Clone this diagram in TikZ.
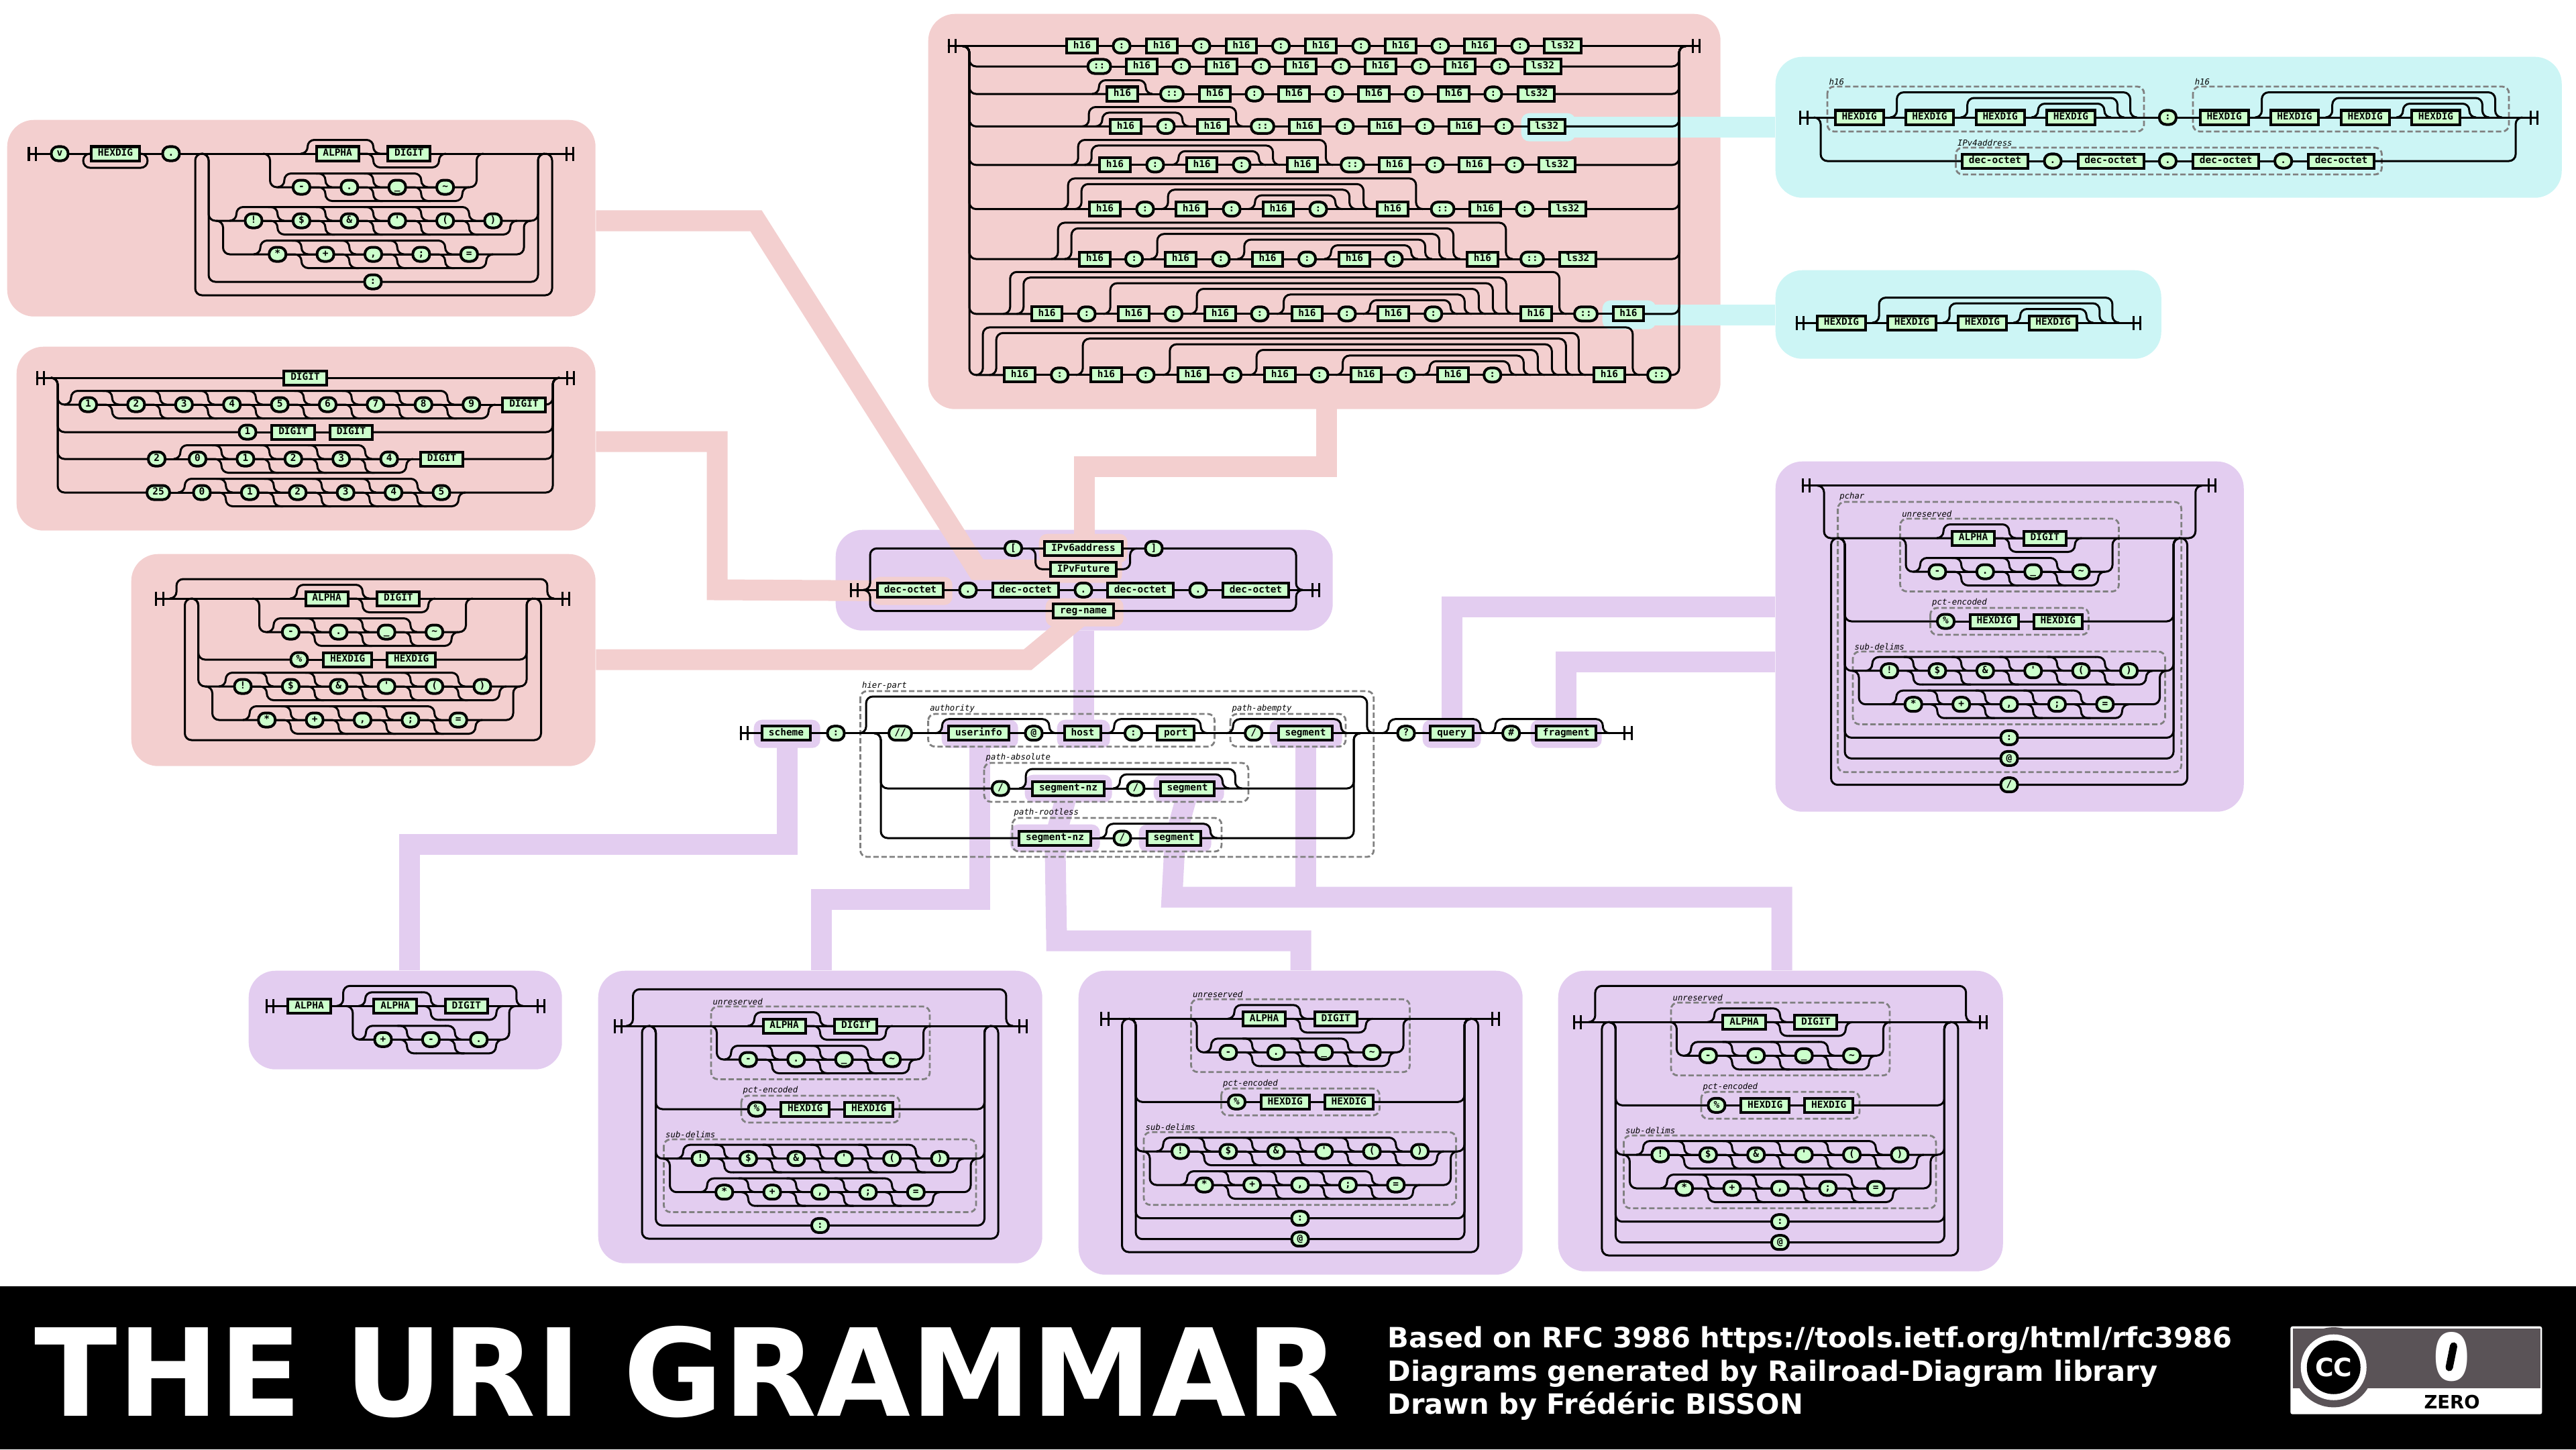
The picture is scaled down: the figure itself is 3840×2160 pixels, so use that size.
\documentclass[tikz,border=0pt]{standalone}
\usepackage{fontspec}
\usetikzlibrary{calc}
\newfontfamily\railfont{DejaVu Sans Mono}
\newfontfamily\footfont{DejaVu Sans}
\definecolor{railgreen}{HTML}{CCFFCC}
\definecolor{panelpink}{HTML}{F3CFCF}
\definecolor{panelviolet}{HTML}{E3CDF0}
\definecolor{panelcyan}{HTML}{CCF5F5}
\definecolor{badgegray}{HTML}{5A5357}
\newcommand\fwd{/}
\newcommand\cma{,}
\newcommand\lpr{(}
\newcommand\rpr{)}
\tikzset{
    rail/.style={line width=.03cm, rounded corners=.1cm, line cap=round},
    railbar/.style={line width=.03cm},
    nbox/.style={draw, fill=railgreen, line width=.04cm, inner xsep=.098cm, inner ysep=.03cm, minimum height=.21cm,
        text height=.105cm, text depth=.03cm, font=\railfont\bfseries\fontsize{4.11}{5}\selectfont},
    tbox/.style={nbox, rounded corners=.1cm, inner xsep=.082cm},
    groupbox/.style={draw=gray, line width=.028cm, rounded corners=.1cm, dash pattern=on .08cm off .04cm},
    grouptag/.style={anchor=west, inner sep=0, font=\railfont\itshape\fontsize{3.5}{4}\selectfont},
    band/.style={draw=#1, line width=.31cm},
    footline/.style={anchor=base west, inner sep=0, text=white, font=\footfont\bfseries\fontsize{11.84}{13}\selectfont}
}
% background shapes
\newcommand\railpanel[7]{\node[fill=#2, rounded corners=#7, inner sep=0, anchor=north west,
    minimum width={(#5-#3)*.01cm}, minimum height={(#6-#4)*.01cm}] (#1) at (#3,#4) {};}
% start and end marks
\newcommand\railend[3]{%
    \coordinate (#1) at ({#2+5.25},#3);
    \draw[railbar] ({#2},{#3-10.5}) -- ++(0,21);
    \draw[railbar] ({#2+10.5},{#3-10.5}) -- ++(0,21);
    \draw[rail] (#2,#3) -- ++(10.5,0);
}
% nodes on a row, each joined to the one before
\newcommand\railchain[3]{%
    \foreach \px/\kind/\lbl [count=\i, remember=\i as \j (initially 0)] in {#3} {
        \expandafter\node\expandafter[\kind] (#1\i) at ({\px},{#2}) {\lbl};
        \ifnum\i>1 \draw[rail] (#1\j) -- (#1\i); \fi
    }
}
% row of items that may each be entered or left
\newcommand\stairrow[6]{%
    \foreach \lbl [count=\i, remember=\i as \j (initially 0)] in {#6} {
        \node[#2] (#1\i) at ({#3+(\i-1)*#4},{#5}) {\lbl};
        \ifnum\i>1
            \draw[rail] (#1\j) -- (#1\i);
            \coordinate (#1g\i) at ($(#1\j)!.5!(#1\i)$);
            \draw[rail] ($(#1g\i)+(-14,-20.5)$) -- ++(14,0) |- (#1\i.west);
            \draw[rail] (#1\j.east) -| ($(#1g\i)+(0,20.5)$) -- ++(14,0);
        \fi
        \xdef\railn{\i}
    }
    \draw[rail] ($(#11.west)+(-21,0)$) -- ++(10,0) |- ($(#1g\railn)+(-14,-20.5)$);
    \draw[rail] ($(#1g2)+(14,20.5)$) -| ($(#1\railn.east)+(11,0)$) -- ++(10,0);
}
% branch of a choice, bypass above, loop below
\newcommand\railrow[4]{%
    \draw[rail] ($(#1)+(-10,0)$) -- (#1) |- (#3.west);
    \draw[rail] (#4.east) -| (#2) -- ++(10,0);
}
\newcommand\railskip[5]{\draw[rail] ($(#1.west)+({-(#2)-10},0)$) -- ++(10,0) -- ++(0,{-(#5)}) -| ($(#3.east)+(#4,0)$) -- ++(10,0);}
\newcommand\railloop[3]{\draw[rail] ($(#1)+(10,0)$) -- (#1) -- (#1 |- 0,#3) -- (#2 |- 0,#3) -- (#2) -- ($(#2)+(-10,0)$);}
\newcommand\rowskips[2]{\foreach \ia/\ib/\dl/\dr/\lev in {#2} {\railskip{#1\ia}{\dl}{#1\ib}{\dr}{20.5+8.4*\lev}}}
% dashed group with its name
\newcommand\railgroup[6]{%
    \draw[groupbox] ({#2},{#3}) rectangle ({#4},{#5});
    \node[grouptag] (#1) at ({#2+2},{#3-7.5}) {#6};
}
% repeated grammar blocks
\newcommand\unresrow[3]{%
    \stairrow{#1a}{nbox}{#2-53.4}{106.8}{#3}{ALPHA,DIGIT}
    \stairrow{#1b}{tbox}{#2-107.1}{71.4}{#3+50}{-,.,\_,\textasciitilde}
    \railrow{{#2-154},#3}{{#2+154},#3}{#1b1}{#1b4}
}
\newcommand\pctrow[3]{\railchain{#1}{#3}{#2-94.5/tbox/\%,#2-22.2/nbox/HEXDIG,#2+72.8/nbox/HEXDIG}}
\newcommand\subrow[3]{%
    \stairrow{#1a}{tbox}{#2-178.5}{71.4}{#3}{!,\$,\&,',\lpr,\rpr}
    \stairrow{#1b}{tbox}{#2-142.8}{71.4}{#3+50}{*,+,\cma,;,=}
    \railrow{{#2-224},#3}{{#2+224.5},#3}{#1b1}{#1b5}
}
\newcommand\choiceterm[5]{%
    \node[tbox] (#1#2) at ({#4},{#5}) {#3};
    \railrow{#1l}{#1r}{#1#2}{#1#2}
}
\newcommand\pcharcore[3]{%
    \railgroup{#1ug}{#2-162.5}{#3-29}{#2+163.5}{#3+79.5}{unreserved}
    \railgroup{#1pg}{#2-117.5}{#3+104}{#2+118.5}{#3+144}{pct-encoded}
    \railgroup{#1dg}{#2-233}{#3+169}{#2+232.5}{#3+277.5}{sub-delims}
    \coordinate (#1l) at ({#2-245},#3);
    \coordinate (#1r) at ({#2+245},#3);
    \coordinate (#1ll) at ({#2-265.5},#3);
    \coordinate (#1rr) at ({#2+265.5},#3);
    \unresrow{#1u}{#2}{#3}
    \pctrow{#1p}{#2}{#3+124}
    \subrow{#1d}{#2}{#3+197.7}
    \railrow{#1l}{#1r}{#1p1}{#1p3}
    \railrow{#1l}{#1r}{#1da1}{#1da6}
    \choiceterm{#1}{c}{:}{#2}{#3+297.4}
}
\newcommand\hexladder[3]{%
    \railchain{#1}{#3}{#2/nbox/HEXDIG,#2+104.9/nbox/HEXDIG,#2+210/nbox/HEXDIG,#2+315.4/nbox/HEXDIG}
    \railskip{#12}{11}{#14}{50.6}{37.4}
    \railskip{#13}{11}{#14}{31.5}{29}
    \railskip{#14}{11}{#14}{12}{20.5}
}
\begin{document}
\begin{tikzpicture}[x=.01cm, y=-.01cm]
    \useasboundingbox (0,0) rectangle (3840,2160);

    % violet panels, highlights and bands
    \railpanel{phost}{panelviolet}{1245}{789}{1986}{939}{.4cm}
    \railpanel{ppchar}{panelviolet}{2646}{687}{3344}{1209}{.4cm}
    \railpanel{pscheme}{panelviolet}{370}{1446}{837}{1593}{.4cm}
    \railpanel{puser}{panelviolet}{891}{1446}{1553}{1882}{.4cm}
    \railpanel{pnz}{panelviolet}{1607}{1446}{2269}{1899}{.4cm}
    \railpanel{pseg}{panelviolet}{2322}{1446}{2985}{1894}{.4cm}
    \railpanel{hsc}{panelviolet}{1123}{1072}{1222}{1114}{.12cm}
    \railpanel{hui}{panelviolet}{1403}{1072}{1517}{1114}{.12cm}
    \railpanel{hho}{panelviolet}{1575}{1072}{1654}{1114}{.12cm}
    \railpanel{hsa}{panelviolet}{1892}{1072}{2000}{1114}{.12cm}
    \railpanel{hq}{panelviolet}{2120}{1072}{2207}{1114}{.12cm}
    \railpanel{hfr}{panelviolet}{2281}{1072}{2387}{1114}{.12cm}
    \railpanel{hnza}{panelviolet}{1527}{1154}{1657}{1195}{.12cm}
    \railpanel{hsga}{panelviolet}{1719}{1154}{1824}{1195}{.12cm}
    \railpanel{hnzb}{panelviolet}{1505}{1228}{1639}{1269}{.12cm}
    \railpanel{hsgb}{panelviolet}{1697}{1228}{1805}{1269}{.12cm}
    \draw[band=panelviolet] (hsc.center) |- (610,1258) -- (610,0 |- pscheme.north);
    \draw[band=panelviolet] (hho.center) -- (hho |- phost.south);
    \draw[band=panelviolet] (hq.center) |- (ppchar.west |- 0,904);
    \draw[band=panelviolet] (hfr.center) |- (ppchar.west |- 0,986);
    \draw[band=panelviolet] (hui.center) |- (1224,1340) -- (1224,0 |- puser.north);
    \draw[band=panelviolet] (hnza.center) -- (hnzb.center) -- (1575,1402) -- (1939,1402) -- (1939,0 |- pnz.north);
    \draw[band=panelviolet] (hsa.center) -- (hsa |- 0,1337);
    \draw[band=panelviolet] (hsga.center) -- (hsgb.center) -- (1747,1337) -- (2656,1337) -- (2656,0 |- pseg.north);

    % pink panels, highlights and bands
    \railpanel{pfut}{panelpink}{10}{178}{887}{471}{.4cm}
    \railpanel{pdec}{panelpink}{24}{516}{887}{790}{.4cm}
    \railpanel{preg}{panelpink}{195}{825}{887}{1141}{.4cm}
    \railpanel{pv6}{panelpink}{1383}{20}{2564}{609}{.4cm}
    \railpanel{hv6}{panelpink}{1548}{795}{1680}{838}{.12cm}
    \railpanel{hfut}{panelpink}{1560}{830}{1672}{868}{.12cm}
    \railpanel{hdo}{panelpink}{1299}{859}{1419}{901}{.12cm}
    \railpanel{hreg}{panelpink}{1558}{891}{1674}{933}{.12cm}
    \draw[band=panelpink] (pfut.east |- 0,329) -- (1127,329) -- (1457,849) -- (hfut.center);
    \draw[band=panelpink] (pdec.east |- 0,658) -- (1069,658) -- (1069,879) -- (hdo.center);
    \draw[band=panelpink] (preg.east |- 0,983) -- (1532,983) -- (hreg.center);
    \draw[band=panelpink] (1977,609) -- (1977,695) -- (1616,695) -- (1616,800);

    % cyan panels, highlights and bands
    \railpanel{pls}{panelcyan}{2646}{84}{3818}{294}{.4cm}
    \railpanel{ph16}{panelcyan}{2646}{402}{3221}{534}{.4cm}
    \railpanel{hls}{panelcyan}{2267}{168}{2348}{210}{.12cm}
    \railpanel{hhs}{panelcyan}{2388}{447}{2468}{490}{.12cm}
    \draw[band=panelcyan] (hls.center) -- (pls.west |- hls.center);
    \draw[band=panelcyan] (hhs.center) -- (ph16.west |- hhs.center);

    % IPvFuture
    \railend{fut-in}{43}{229}
    \railend{fut-out}{844}{229}
    \railchain{futv}{229}{89/tbox/v,172/nbox/HEXDIG,255/tbox/.}
    \draw[rail] (fut-in) -- (futv1);
    \draw[rail] (futv2.west) -- ++(-10,0) -- ++(0,21) -| ($(futv2.east)+(10,0)$) -- (futv2.east);
    \unresrow{futu}{556.5}{229}
    \draw[rail] (futv3) -- (futua1);
    \draw[rail] (futua2) -- (fut-out);
    \subrow{futd}{556.5}{329}
    \railrow{311,229}{802,229}{futda1}{futda6}
    \node[tbox] (futc) at (556,420) {:};
    \railrow{311,229}{802,229}{futc}{futc}
    \railloop{291,229}{823,229}{440}

    % dec-octet
    \railend{dec-in}{55}{563}
    \railend{dec-out}{845}{563}
    \node[nbox] (dect) at (455,563) {DIGIT};
    \draw[rail] (dec-in) -- (dect);
    \draw[rail] (dect) -- (dec-out);
    \coordinate (decl) at (86,563);
    \coordinate (decr) at (824,563);
    \stairrow{decb}{tbox}{131.5}{71.4}{603}{1,2,3,4,5,6,7,8,9}
    \node[nbox] (decbd) at (781,603) {DIGIT};
    \draw[rail] (decb9) -- (decbd);
    \railrow{decl}{decr}{decb1}{decbd}
    \railchain{decc}{644}{369/tbox/1,437/nbox/DIGIT,523.5/nbox/DIGIT}
    \railrow{decl}{decr}{decc1}{decc3}
    \node[tbox] (decd) at (233.6,684) {2};
    \stairrow{decf}{tbox}{294.5}{71.4}{684}{0,1,2,3,4}
    \node[nbox] (decfd) at (658.5,684) {DIGIT};
    \draw[rail] (decd) -- (decf1);
    \draw[rail] (decf5) -- (decfd);
    \railrow{decl}{decr}{decd}{decfd}
    \node[tbox] (dece) at (236,734) {25};
    \stairrow{decg}{tbox}{301}{71.4}{734}{0,1,2,3,4,5}
    \draw[rail] (dece) -- (decg1);
    \railrow{decl}{decr}{dece}{decg6}

    % reg-name
    \railend{reg-in}{232.5}{892}
    \railend{reg-out}{838}{892}
    \unresrow{regu}{540.5}{892}
    \draw[rail] (reg-in) -- (regua1);
    \draw[rail] (regua2) -- (reg-out);
    \railskip{regua1}{190.5}{regua2}{188.5}{29}
    \pctrow{regp}{540.5}{983}
    \subrow{regd}{540.5}{1023}
    \railrow{295.6,892}{785,892}{regp1}{regp3}
    \railrow{295.6,892}{785,892}{regda1}{regda6}
    \railloop{275.5,892}{806.5,892}{1103}

    % IPv6address
    \railend{ip-in}{1414}{68.6}
    \railend{ip-out}{2523}{68.6}
    \coordinate (ipl) at (1445,68.6);
    \coordinate (ipr) at (2503,68.6);
    \railchain{ip1-}{68.6}{1613/nbox/h16,1672/tbox/:,1732/nbox/h16,1791/tbox/:,1850.5/nbox/h16,1909.5/tbox/:,1969/nbox/h16,2029/tbox/:,2088/nbox/h16,2147/tbox/:,2206/nbox/h16,2266/tbox/:,2329.5/nbox/ls32}
    \railchain{ip2-}{99}{1638.6/tbox/::,1702/nbox/h16,1761/tbox/:,1821/nbox/h16,1880/tbox/:,1939/nbox/h16,1999/tbox/:,2058/nbox/h16,2117.6/tbox/:,2176.5/nbox/h16,2236/tbox/:,2299.7/nbox/ls32}
    \railchain{ip3-}{140}{1673/nbox/h16,1747/tbox/::,1811/nbox/h16,1870/tbox/:,1929/nbox/h16,1989/tbox/:,2048/nbox/h16,2107.6/tbox/:,2167/nbox/h16,2226/tbox/:,2290/nbox/ls32}
    \railchain{ip4-}{188.4}{1678/nbox/h16,1738/tbox/:,1807.7/nbox/h16,1882/tbox/::,1945/nbox/h16,2005/tbox/:,2064/nbox/h16,2124/tbox/:,2182.6/nbox/h16,2242/tbox/:,2305.8/nbox/ls32}
    \railchain{ip5-}{245.8}{1662/nbox/h16,1722/tbox/:,1791.6/nbox/h16,1851/tbox/:,1941.6/nbox/h16,2016/tbox/::,2079/nbox/h16,2139/tbox/:,2198/nbox/h16,2257.6/tbox/:,2321/nbox/ls32}
    \railchain{ip6-}{311.6}{1647/nbox/h16,1707/tbox/:,1776/nbox/h16,1836/tbox/:,1905.6/nbox/h16,1965/tbox/:,2076/nbox/h16,2150.5/tbox/::,2214/nbox/h16,2273/tbox/:,2337/nbox/ls32}
    \railchain{ip7-}{386}{1632/nbox/h16,1690.6/tbox/:,1760/nbox/h16,1820/tbox/:,1889.6/nbox/h16,1948.5/tbox/:,2019/nbox/h16,2078/tbox/:,2210/nbox/h16,2284/tbox/::,2352/nbox/ls32}
    \railchain{ip8-}{467.8}{1560.6/nbox/h16,1620/tbox/:,1690/nbox/h16,1749.5/tbox/:,1819/nbox/h16,1878/tbox/:,1948.5/nbox/h16,2008/tbox/:,2077/nbox/h16,2136.7/tbox/:,2289.7/nbox/h16,2364/tbox/::,2427.4/nbox/h16}
    \railchain{ip9-}{558.8}{1520/nbox/h16,1579.7/tbox/:,1649/nbox/h16,1708/tbox/:,1778.6/nbox/h16,1837.5/tbox/:,1908/nbox/h16,1967/tbox/:,2036.5/nbox/h16,2096/tbox/:,2165.8/nbox/h16,2224.7/tbox/:,2399/nbox/h16,2473/tbox/::}
    \draw[rail] (ip-in) -- (ip1-1);
    \draw[rail] (ip1-13) -- (ip-out);
    \foreach \rw/\lst in {2/12,3/11,4/11,5/11,6/11,7/11,8/13,9/14} {
        \railrow{ipl}{ipr}{ip\rw-1}{ip\rw-\lst}
    }
    \rowskips{ip3-}{1/1/10/10/0}
    \rowskips{ip4-}{1/3/30/10/1,1/2/10/10/0}
    \rowskips{ip5-}{1/5/30/10/2,1/4/10/32/1,3/4/10/11/0}
    \rowskips{ip6-}{1/7/30/10/3,1/6/10/53/2,3/6/10/32/1,5/6/10/11/0}
    \rowskips{ip7-}{1/9/30/10/4,1/8/10/74/3,3/8/10/53/2,5/8/10/32/1,7/8/10/11/0}
    \rowskips{ip8-}{1/11/30/10/5,1/10/10/94/4,3/10/10/74/3,5/10/10/53/2,7/10/10/32/1,9/10/10/11/0}
    \rowskips{ip9-}{1/13/30/10/6,1/12/10/114/5,3/12/10/95/4,5/12/10/74/3,7/12/10/53/2,9/12/10/32/1,11/12/10/11/0}

    % h16:h16 or IPv4address
    \railgroup{lsga}{2724}{129}{3196}{196}{h16}
    \railgroup{lsgb}{3269}{129}{3740}{196}{h16}
    \railgroup{lsgc}{2915.4}{220}{3550.5}{260}{IPv4address}
    \railend{ls-in}{2683.6}{175}
    \railend{ls-out}{3772}{175}
    \hexladder{lsa}{2771.6}{175}
    \node[tbox] (lsc) at (3231.4,175) {:};
    \hexladder{lsb}{3315.6}{175}
    \draw[rail] (ls-in) -- (lsa1);
    \draw[rail] (lsa4) -- (lsc);
    \draw[rail] (lsc) -- (lsb1);
    \draw[rail] (lsb4) -- (ls-out);
    \railchain{lso}{240}{2974/nbox/dec-octet,3060/tbox/.,3146.5/nbox/dec-octet,3231.4/tbox/.,3318/nbox/dec-octet,3403.6/tbox/.,3490/nbox/dec-octet}
    \railrow{2714,175}{3750,175}{lso1}{lso7}

    % h16
    \railend{hs-in}{2678}{481}
    \railend{hs-out}{3180}{481}
    \hexladder{hsa}{2745}{481}
    \draw[rail] (hs-in) -- (hsa1);
    \draw[rail] (hsa4) -- (hs-out);

    % host
    \railend{ho-in}{1268}{879.3}
    \railend{ho-out}{1956}{879.3}
    \coordinate (hol) at (1297,879.3);
    \coordinate (hor) at (1932,879.3);
    \railchain{hod}{879.3}{1357/nbox/dec-octet,1443/tbox/.,1528.7/nbox/dec-octet,1615/tbox/.,1700/nbox/dec-octet,1786/tbox/.,1872/nbox/dec-octet}
    \draw[rail] (ho-in) -- (hod1);
    \draw[rail] (hod7) -- (ho-out);
    \railchain{hov}{817.3}{1510.5/tbox/[,1615/nbox/IPv6address,1720/tbox/]}
    \railrow{hol}{hor}{hov1}{hov3}
    \node[nbox] (hof) at (1615,848.3) {IPvFuture};
    \railrow{1543.6,817.3}{1684.6,817.3}{hof}{hof}
    \node[nbox] (hor1) at (1615,910.7) {reg-name};
    \railrow{hol}{hor}{hor1}{hor1}

    % URI
    \railgroup{uria}{1282.4}{1030}{2047.8}{1277}{hier-part}
    \railgroup{urib}{1383.6}{1064}{1810.6}{1112.7}{authority}
    \railgroup{uric}{1834}{1064}{2006}{1112.7}{path-abempty}
    \railgroup{urid}{1467}{1137}{1861}{1195}{path-absolute}
    \railgroup{urie}{1509}{1219}{1821}{1269}{path-rootless}
    \railend{uri-in}{1104}{1092.7}
    \railend{uri-out}{2421.7}{1092.7}
    \railchain{uri}{1092.7}{1172/nbox/scheme,1246/tbox/:,1342/tbox/\fwd\fwd,1459/nbox/userinfo,1541/tbox/@,1614/nbox/host,1689.5/tbox/:,1752.6/nbox/port,1868.7/tbox/\fwd,1946/nbox/segment,2096/tbox/?,2164/nbox/query,2252.6/tbox/\#,2334.7/nbox/fragment}
    \draw[rail] (uri-in) -- (uri1);
    \draw[rail] (uri14) -- (uri-out);
    \railskip{uri3}{32}{uri10}{49.6}{54.7}
    \railskip{uri4}{8}{uri5}{8.5}{21}
    \railskip{uri7}{14}{uri8}{8}{21}
    \railskip{uri9}{16}{uri10}{10.7}{21}
    \railskip{uri11}{11.5}{uri12}{9}{21}
    \railskip{uri13}{9}{uri14}{8}{21}
    \coordinate (uril) at (1313,1092.7);
    \coordinate (urir) at (2018,1092.7);
    \railchain{abs}{1175}{1491.4/tbox/\fwd,1592.5/nbox/segment-nz,1693/tbox/\fwd,1770/nbox/segment}
    \railskip{abs2}{8}{abs4}{29}{29}
    \railskip{abs3}{9}{abs4}{10}{21}
    \railrow{uril}{urir}{abs1}{abs4}
    \railchain{rtl}{1249}{1572.6/nbox/segment-nz,1673/tbox/\fwd,1750/nbox/segment}
    \railskip{rtl2}{9}{rtl3}{12}{21.3}
    \railrow{uril}{urir}{rtl1}{rtl3}

    % pchar with slash, right
    \railend{pc-in}{2687}{723.7}
    \railend{pc-out}{3292}{723.7}
    \draw[rail] (pc-in) -- (pc-out);
    \railgroup{pcg}{2739.6}{748}{3251.6}{1150.7}{pchar}
    \pcharcore{pc}{2995}{802}
    \railrow{2719,723.7}{3272.7,723.7}{pcua1}{pcua2}
    \choiceterm{pc}{a}{@}{2995}{1130.4}
    \railloop{pcll}{pcrr}{1169.7}
    \node[tbox] (pcs) at (2995,1169.7) {\fwd};

    % scheme
    \railend{sc-in}{397.4}{1499.3}
    \railend{sc-out}{801}{1499.3}
    \node[nbox] (sca) at (461,1499.3) {ALPHA};
    \stairrow{scb}{nbox}{589}{106.4}{1499.3}{ALPHA,DIGIT}
    \draw[rail] (sc-in) -- (sca);
    \draw[rail] (sca) -- (scb1);
    \draw[rail] (scb2) -- (sc-out);
    \railskip{scb1}{43.8}{scb2}{41}{30}
    \stairrow{scc}{tbox}{571}{71.4}{1549.3}{+,-,.}
    \railrow{525.8,1499.3}{759,1499.3}{scc1}{scc3}

    % userinfo
    \railend{ui-in}{916.4}{1529}
    \railend{ui-out}{1519.5}{1529}
    \pcharcore{ui}{1222.5}{1529}
    \draw[rail] (ui-in) -- (uiua1);
    \draw[rail] (uiua2) -- (ui-out);
    \railskip{uiua1}{192}{uiua2}{190.5}{54.7}
    \railloop{uill}{uirr}{1846}

    % segment-nz
    \railend{nz-in}{1641.6}{1518.3}
    \railend{nz-out}{2224}{1518.3}
    \pcharcore{nz}{1938}{1518.3}
    \draw[rail] (nz-in) -- (nzua1);
    \draw[rail] (nzua2) -- (nz-out);
    \choiceterm{nz}{a}{@}{1938}{1846.7}
    \railloop{nzll}{nzrr}{1866}

    % segment
    \railend{sg-in}{2346.4}{1523.3}
    \railend{sg-out}{2951.4}{1523.3}
    \pcharcore{sg}{2653.4}{1523.3}
    \draw[rail] (sg-in) -- (sgua1);
    \draw[rail] (sgua2) -- (sg-out);
    \railskip{sgua1}{188.5}{sgua2}{190.3}{54}
    \choiceterm{sg}{a}{@}{2653.4}{1851.7}
    \railloop{sgll}{sgrr}{1871}

    % footer
    \fill[black] (0,1917) rectangle (3840,2160);
    \node[anchor=base west, inner sep=0, text=white, font=\footfont\bfseries\fontsize{51.45}{60}\selectfont] (title) at (51,2110) {THE URI GRAMMAR};
    \node[footline] (foota) at (2068,2008) {Based on RFC 3986 https://tools.ietf.org/html/rfc3986};
    \node[footline] (footb) at (2068,2058) {Diagrams generated by Railroad-Diagram library};
    \node[footline] (footc) at (2068,2107) {Drawn by Frédéric BISSON};

    % licence badge
    \fill[white, rounded corners=.03cm] (3414.3,1976.7) rectangle (3789.3,2107.7);
    \fill[badgegray] (3417.7,1980) rectangle (3787,2069);
    \fill[badgegray] (3478.7,2037.7) circle (.596cm);
    \fill[white] (3478.7,2037.7) circle (.49cm);
    \node[circle, fill=black, minimum size=.8cm, inner sep=0, text=white, font=\footfont\bfseries\fontsize{10.7}{12}\selectfont] (badgecc) at (3478.7,2037.7) {CC};
    \node[inner sep=0, text=white, font=\railfont\bfseries\fontsize{27.6}{30}\selectfont] (badgezero) at (3655,2022.3) {0};
    \fill[white] (3655,2022.3) ellipse (.16cm and .28cm);
    \draw[black, line width=.11cm, line cap=round] (3657.5,2006) -- (3651,2038);
    \node[inner sep=0, text=black, font=\footfont\bfseries\fontsize{7.8}{9}\selectfont] (badgeword) at (3655,2089.3) {ZERO};
\end{tikzpicture}
\end{document}
